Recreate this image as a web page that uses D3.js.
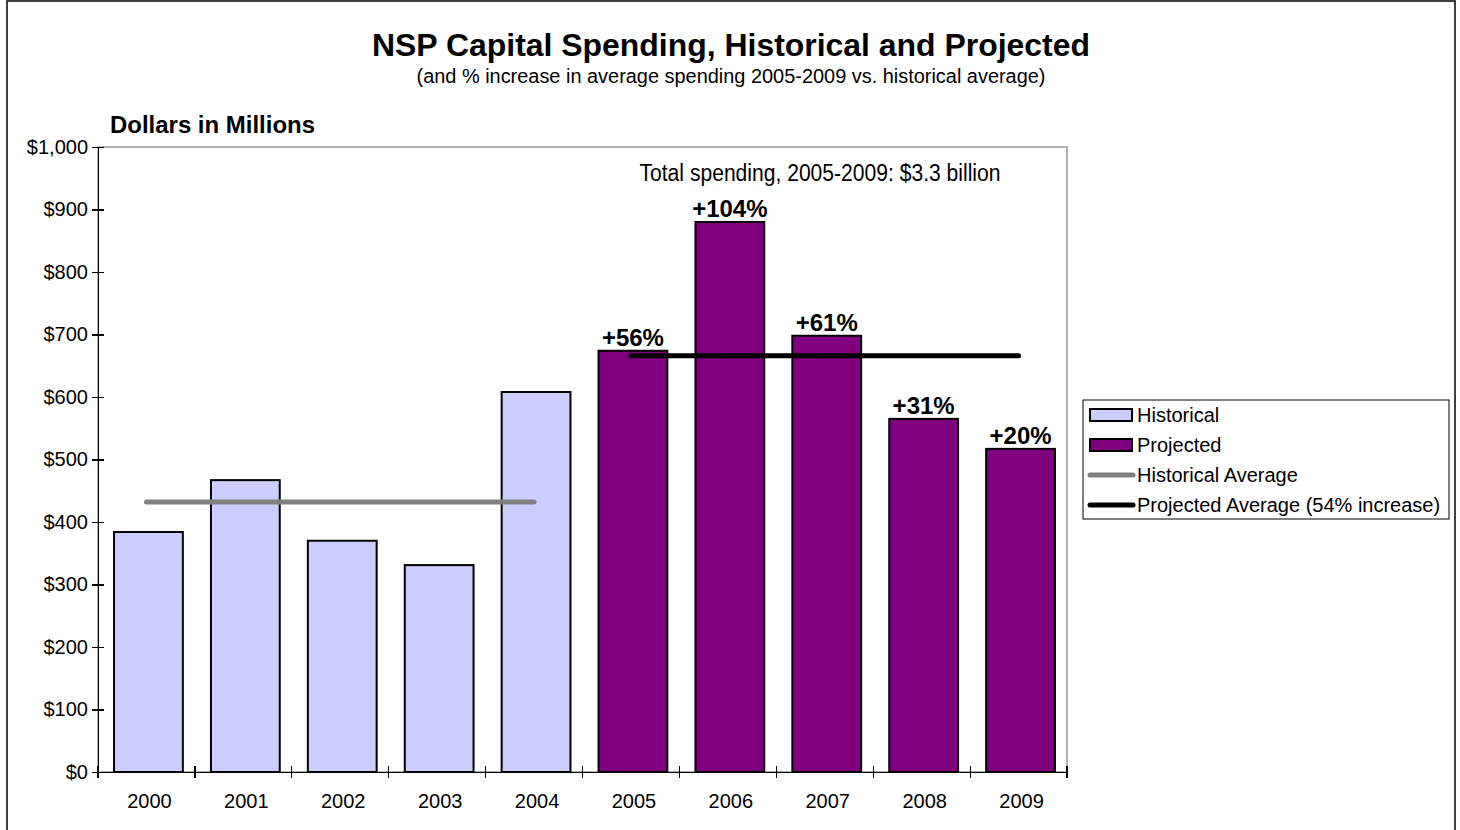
<!DOCTYPE html>
<html lang="en">
<head>
  <meta charset="UTF-8">
  <title>NSP Capital Spending</title>
  <style>
    body { margin: 0; background: #fff; font-family: "Liberation Sans", Arial, sans-serif; }
    svg { display: block; }
    .frame { fill: #fff; stroke: #000; stroke-width: 1.5; }
    .plot-border { fill: none; stroke: #808080; stroke-width: 1.2; }
    .axis path, .axis line { stroke: #000; stroke-width: 1.2; shape-rendering: crispEdges; }
    .axis text { font-size: 20px; fill: #000; font-family: "Liberation Sans", Arial, sans-serif; }
    .bar { stroke: #000; stroke-width: 2; }
    .pct { font-size: 24px; font-weight: bold; text-anchor: middle; }
    .legend text { font-size: 20px; }
  </style>
</head>
<body>
<div id="chart"></div>
<script src="https://d3js.org/d3.v7.min.js"></script>
<script>
  // data
  const years = ["2000", "2001", "2002", "2003", "2004", "2005", "2006", "2007", "2008", "2009"];
  const spending = [384, 467, 370, 331, 608, 674, 880, 698, 565, 517];
  const kind = ["Historical", "Historical", "Historical", "Historical", "Historical",
                "Projected", "Projected", "Projected", "Projected", "Projected"];
  const pctLabels = ["", "", "", "", "", "+56%", "+104%", "+61%", "+31%", "+20%"];
  const historicalAvg = 432;
  const projectedAvg = 666;
  const yTicks = [0, 100, 200, 300, 400, 500, 600, 700, 800, 900, 1000];
  const legendItems = ["Historical", "Projected", "Historical Average", "Projected Average (54% increase)"];

  const width = 1460, height = 830;
  const margin = { top: 147, left: 98, right: 393, bottom: 58 };
  const plotW = width - margin.left - margin.right;
  const plotH = height - margin.top - margin.bottom;

  const colors = { Historical: "#ccccff", Projected: "#800080" };

  const svg = d3.select("#chart").append("svg")
    .attr("width", width)
    .attr("height", height);

  svg.append("rect").attr("class", "frame")
    .attr("x", 7).attr("y", 1).attr("width", 1448).attr("height", 840);

  svg.append("text")
    .attr("x", 731).attr("y", 56)
    .attr("text-anchor", "middle")
    .attr("textLength", 718).attr("lengthAdjust", "spacingAndGlyphs")
    .style("font-size", "31px").style("font-weight", "bold")
    .text("NSP Capital Spending, Historical and Projected");

  svg.append("text")
    .attr("x", 731).attr("y", 83)
    .attr("text-anchor", "middle")
    .attr("textLength", 629).attr("lengthAdjust", "spacingAndGlyphs")
    .style("font-size", "20px")
    .text("(and % increase in average spending 2005-2009 vs. historical average)");

  svg.append("text")
    .attr("x", 110).attr("y", 133)
    .attr("textLength", 205).attr("lengthAdjust", "spacingAndGlyphs")
    .style("font-size", "23px").style("font-weight", "bold")
    .text("Dollars in Millions");

  const x = d3.scaleBand().domain(years).range([0, plotW]).paddingInner(0.29).paddingOuter(0.145);
  const xTicks = d3.scaleBand().domain(years).range([0, plotW]);
  const y = d3.scaleLinear().domain([0, 1000]).range([plotH, 0]);

  const g = svg.append("g").attr("transform", `translate(${margin.left},${margin.top})`);

  g.append("rect").attr("class", "plot-border")
    .attr("x", 0).attr("y", 0).attr("width", plotW).attr("height", plotH);

  // bars
  g.selectAll(".bar")
    .data(years)
    .enter()
    .append("rect")
    .attr("class", "bar")
    .attr("x", d => x(d) + 2)
    .attr("width", x.bandwidth())
    .attr("y", (d, i) => y(spending[i]))
    .attr("height", (d, i) => plotH - y(spending[i]))
    .attr("fill", (d, i) => colors[kind[i]]);

  // average lines
  const histYears = years.filter((d, i) => kind[i] === "Historical");
  const projYears = years.filter((d, i) => kind[i] === "Projected");
  const mid = d => x(d) + x.bandwidth() / 2;

  g.append("line")
    .attr("x1", mid(histYears[0])).attr("x2", mid(histYears[histYears.length - 1]))
    .attr("y1", y(historicalAvg)).attr("y2", y(historicalAvg))
    .attr("stroke", "#808080").attr("stroke-width", 5).attr("stroke-linecap", "round");

  g.append("line")
    .attr("x1", mid(projYears[0])).attr("x2", mid(projYears[projYears.length - 1]))
    .attr("y1", y(projectedAvg)).attr("y2", y(projectedAvg))
    .attr("stroke", "#000").attr("stroke-width", 5).attr("stroke-linecap", "round");

  // percent labels
  g.selectAll(".pct")
    .data(years)
    .enter()
    .append("text")
    .attr("class", "pct")
    .attr("x", d => mid(d) + 2)
    .attr("y", (d, i) => y(spending[i]) - 5)
    .text((d, i) => pctLabels[i]);

  g.append("text")
    .attr("x", 722).attr("y", 34)
    .attr("text-anchor", "middle")
    .attr("textLength", 361).attr("lengthAdjust", "spacingAndGlyphs")
    .style("font-size", "23px")
    .text("Total spending, 2005-2009: $3.3 billion");

  // axes
  const yAxis = d3.axisLeft(y).tickValues(yTicks).tickSize(6).tickSizeOuter(0)
    .tickFormat(d => "$" + d3.format(",")(d));
  g.append("g").attr("class", "axis").call(yAxis)
    .call(a => a.selectAll("text").attr("x", -10))
    .call(a => a.selectAll(".tick line").attr("x2", 6).attr("x1", -6));

  const xAxis = d3.axisBottom(xTicks).tickSize(0).tickSizeOuter(0);
  const xg = g.append("g").attr("class", "axis").attr("transform", `translate(0,${plotH})`).call(xAxis);
  xg.selectAll("text").attr("dy", 0).attr("y", 36).attr("x", 3);
  xg.selectAll(".tickmark")
    .data(d3.range(years.length + 1))
    .enter()
    .append("line")
    .attr("x1", i => i * xTicks.step()).attr("x2", i => i * xTicks.step())
    .attr("y1", -6).attr("y2", 6);

  // legend
  const legend = svg.append("g").attr("class", "legend").attr("transform", "translate(1083,400)");
  legend.append("rect").attr("width", 366).attr("height", 119)
    .attr("fill", "#fff").attr("stroke", "#000").attr("stroke-width", 1);

  legendItems.forEach((name, i) => {
    const cy = 15 + i * 30;
    if (i < 2) {
      legend.append("rect")
        .attr("x", 7).attr("y", cy - 6).attr("width", 42).attr("height", 12)
        .attr("fill", colors[name]).attr("stroke", "#000").attr("stroke-width", 2);
    } else {
      legend.append("line")
        .attr("x1", 7).attr("x2", 50).attr("y1", cy).attr("y2", cy)
        .attr("stroke", i === 2 ? "#808080" : "#000")
        .attr("stroke-width", 5).attr("stroke-linecap", "round");
    }
    legend.append("text").attr("x", 54).attr("y", cy + 7).text(name);
  });
</script>
</body>
</html>
